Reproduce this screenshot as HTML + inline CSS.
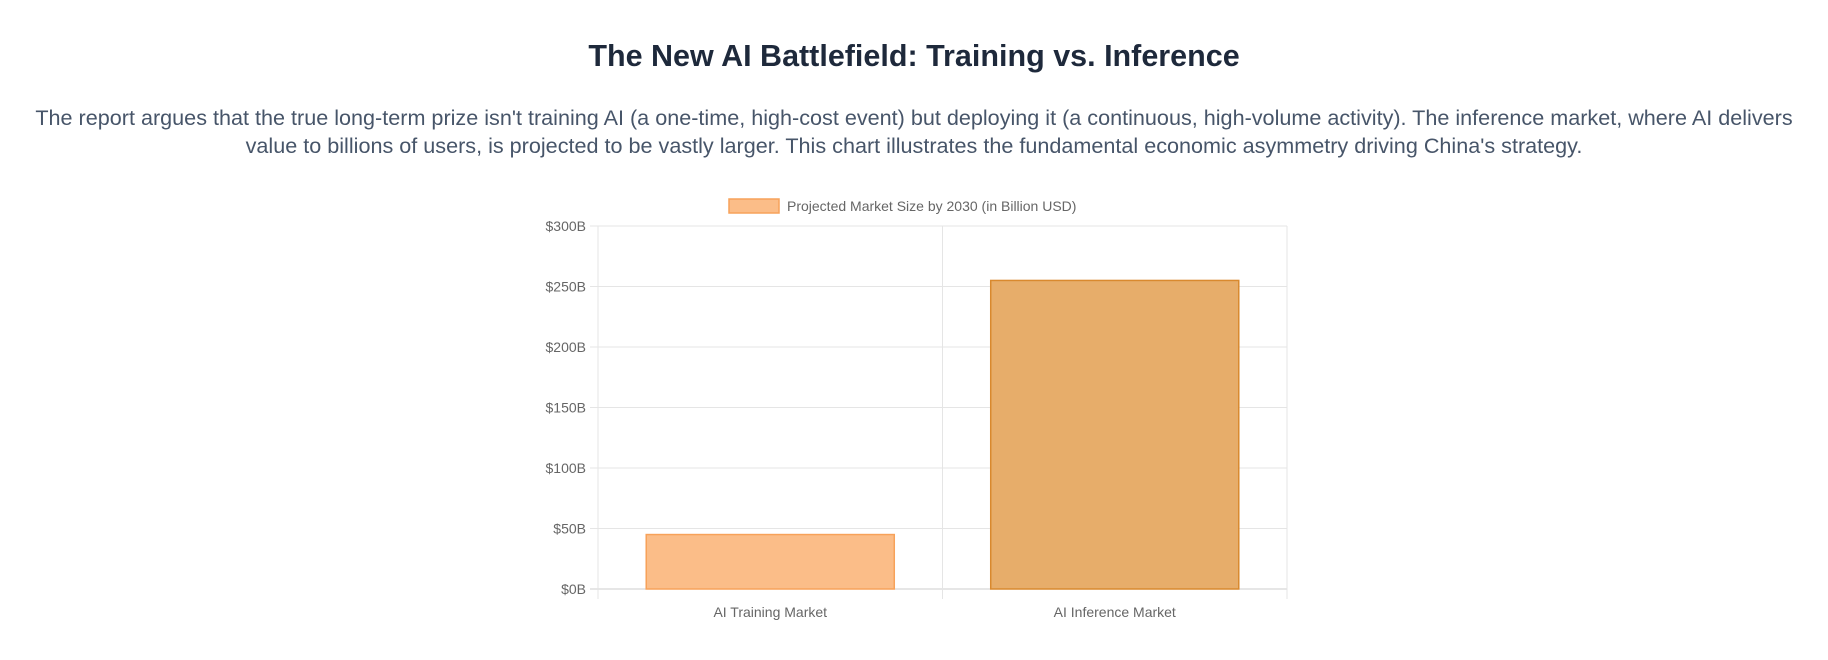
<!DOCTYPE html>
<html><head><meta charset="utf-8"><style>
body{margin:0;width:1828px;height:660px;background:#fff;font-family:"Liberation Sans",sans-serif;overflow:hidden}
h1{position:absolute;top:39px;left:0;width:1828px;text-align:center;margin:0;font-size:30.5px;font-weight:bold;color:#1e293b}
p{position:absolute;top:104px;left:24px;width:1780px;text-align:center;margin:0;font-size:21.6px;line-height:28px;color:#475569}
svg{position:absolute;left:0;top:0}
</style></head><body>
<h1>The New AI Battlefield: Training vs. Inference</h1>
<p>The report argues that the true long-term prize isn't training AI (a one-time, high-cost event) but deploying it (a continuous, high-volume activity). The inference market, where AI delivers value to billions of users, is projected to be vastly larger. This chart illustrates the fundamental economic asymmetry driving China's strategy.</p>
<svg id="c" width="1828" height="660"></svg>
<script>
const categories=["AI Training Market","AI Inference Market"];
const values=[45,255];
const tickValues=[0,50,100,150,200,250,300];
const tickLabels=["$0B","$50B","$100B","$150B","$200B","$250B","$300B"];
const fills=["#fbbd88","#e7ad6a"];
const strokes=["#f7a25a","#d9892e"];
const svg=document.getElementById('c');const NS="http://www.w3.org/2000/svg";
const L=598,R=1287,T=226,B=589;
const y=v=>B-(v/300)*(B-T);
const bw=(R-L)/categories.length;
const x=i=>L+bw*i;
function el(t,a,txt){const e=document.createElementNS(NS,t);for(const k in a)e.setAttribute(k,a[k]);if(txt!=null)e.textContent=txt;svg.appendChild(e);return e;}
tickValues.forEach((v,i)=>{
const g=el('line',{x1:L-8,x2:R,y1:y(v),y2:y(v),stroke:v===0?'#ccc':'#e5e5e5','stroke-width':1});


const t=el('text',{x:L-12,y:y(v)+5,'text-anchor':'end','font-size':14,fill:'#666'},tickLabels[i]);


});
for(let i=0;i<=categories.length;i++){
const g=el('line',{x1:x(i),x2:x(i),y1:T,y2:B+10,stroke:'#e5e5e5','stroke-width':1});


}
categories.forEach((c,i)=>{
const w=bw*0.72,cx=x(i)+bw/2;
const r=el('rect',{x:cx-w/2,y:y(values[i]),width:w,height:B-y(values[i]),fill:fills[i],stroke:strokes[i],'stroke-width':1.5});


const t=el('text',{x:cx,y:B+28,'text-anchor':'middle','font-size':14,fill:'#666'},c);


});
const lb=el('rect',{x:729,y:199,width:50,height:14,fill:fills[0],stroke:strokes[0],'stroke-width':1.5});


const lt=el('text',{x:787,y:211,'font-size':14,fill:'#666'},'Projected Market Size by 2030 (in Billion USD)');


</script>
</body></html>
